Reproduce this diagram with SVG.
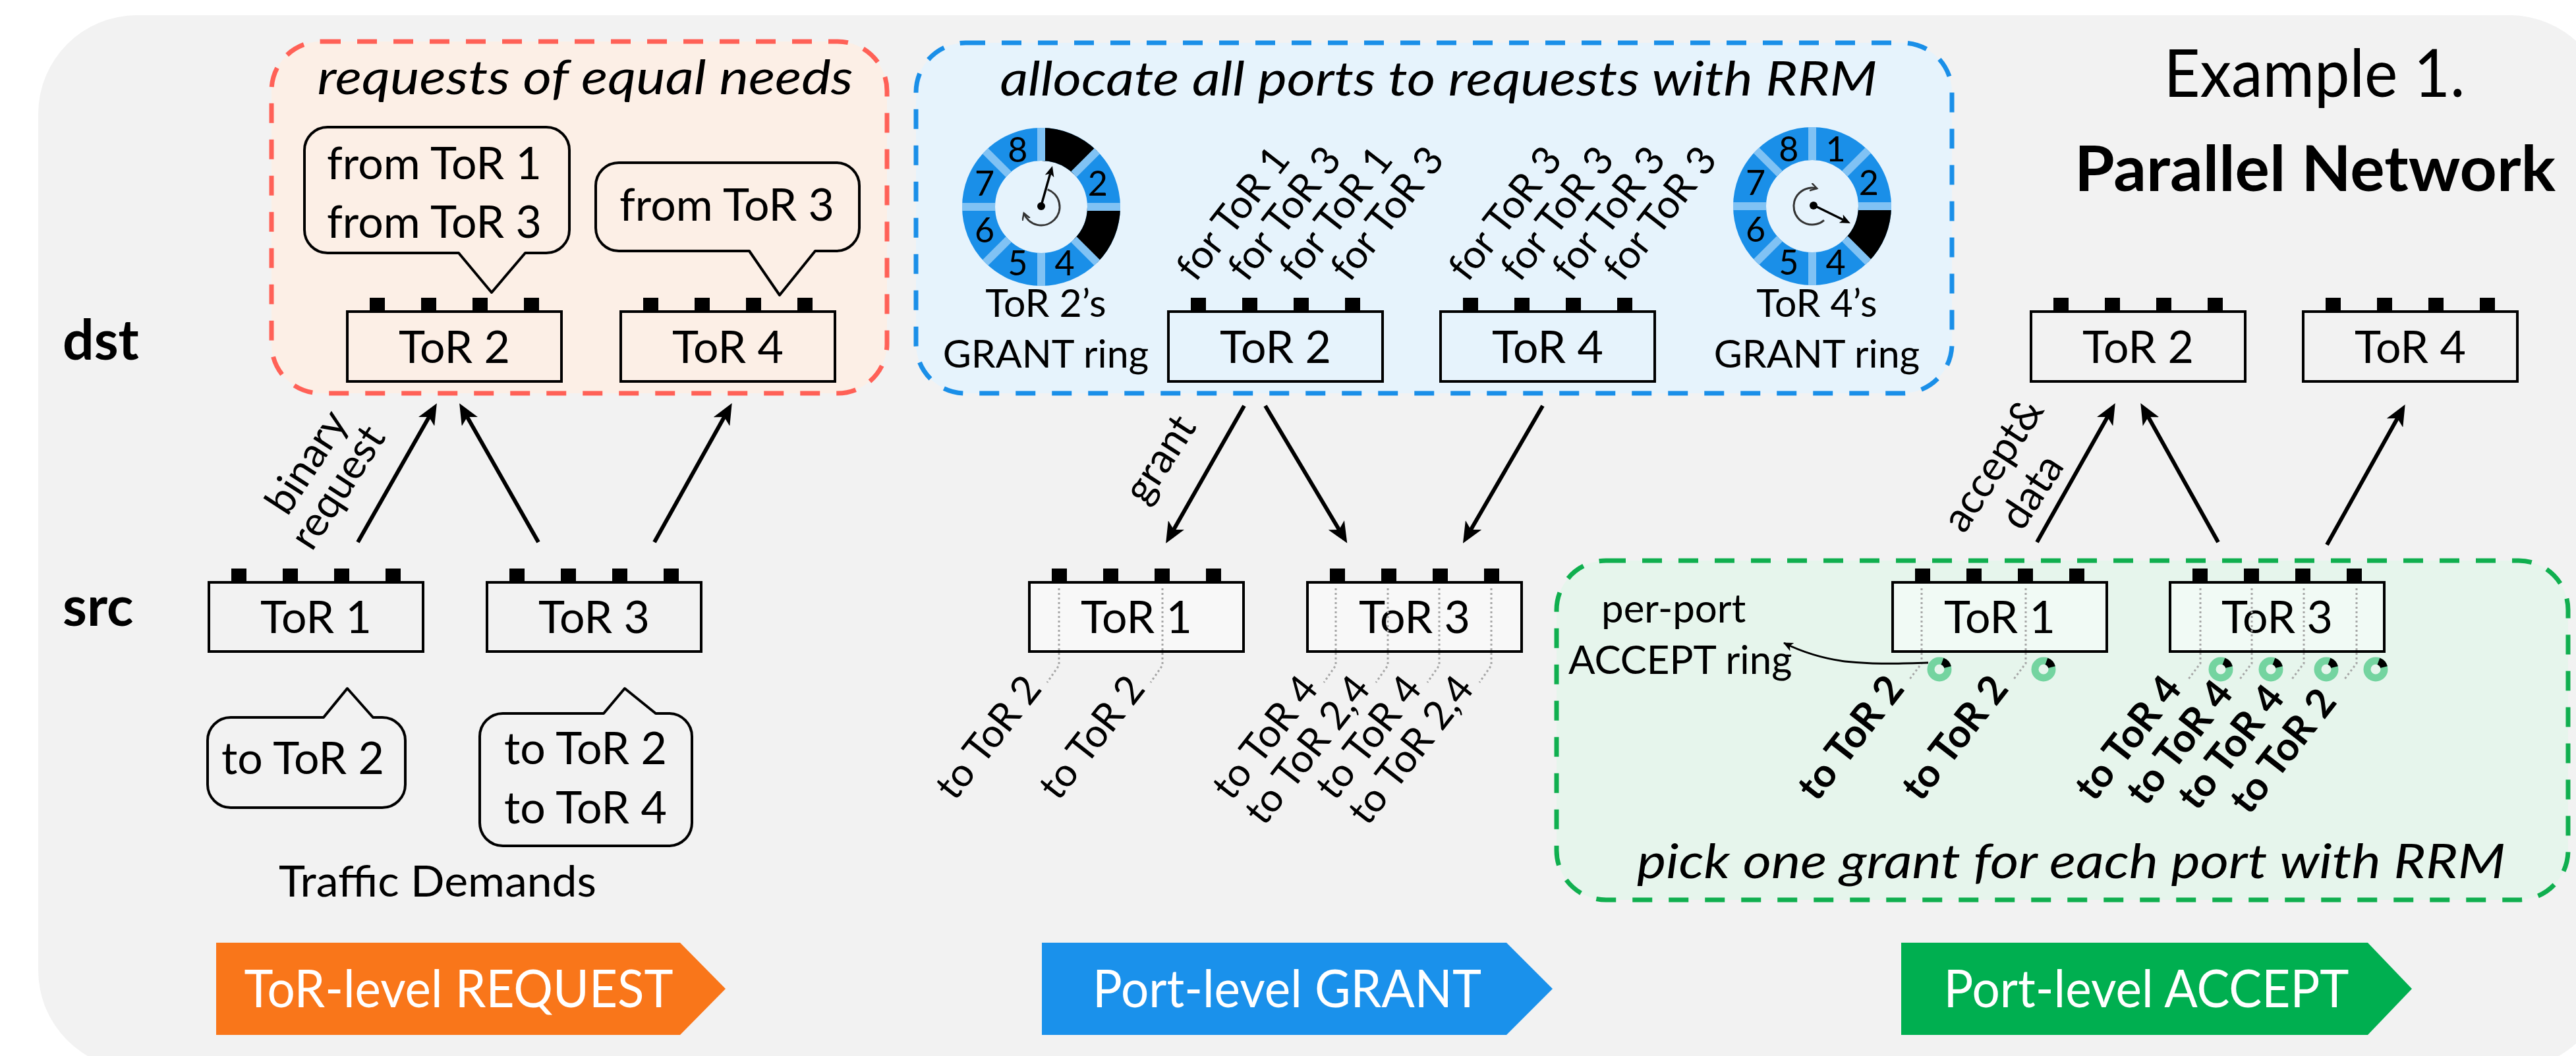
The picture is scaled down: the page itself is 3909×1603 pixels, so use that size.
<svg xmlns="http://www.w3.org/2000/svg" width="3909" height="1603" viewBox="0 0 3909 1603">
<defs>
<style>
text{font-family:Lato,"Liberation Sans",sans-serif;fill:#000}
.box{fill:none;stroke:#000;stroke-width:4}
.port{fill:#000}
.tl{font-size:68px;text-anchor:middle}
.bub{fill:none;stroke:#000;stroke-width:4;stroke-linejoin:round}
.bt{font-size:68px}
.arr{stroke:#000;stroke-width:6;fill:none;marker-end:url(#ah)}
.dot{stroke:#A6A6A6;stroke-width:3;stroke-dasharray:3 4;fill:none}
.pl{font-size:60px;text-anchor:end}
.plb{font-size:60px;text-anchor:end;font-weight:bold}
.fl{font-size:60px}
.al{font-size:63px;text-anchor:middle}
.ttl{font-size:72px;font-style:italic;text-anchor:middle}
.chev{font-size:80px;fill:#fff;text-anchor:middle}
.dig{font-size:52px;fill:#fff;text-anchor:middle}
.rl{font-size:59px;text-anchor:middle}
.ring{fill:none;stroke:#1A8FE8;stroke-width:50}
.blk{fill:none;stroke:#000;stroke-width:50}
.sep{stroke:#80C2F4;stroke-width:12}
.gr{fill:none;stroke:#74D4A0;stroke-width:11}
.grb{fill:none;stroke:#000;stroke-width:11}
</style>
<marker id="ah" markerUnits="userSpaceOnUse" markerWidth="34" markerHeight="28" refX="8" refY="14" orient="auto"><path d="M0,0 L32,14 L0,28 L8,14 Z" fill="#000"/></marker>
<marker id="hh" markerUnits="userSpaceOnUse" markerWidth="18" markerHeight="14" refX="4" refY="7" orient="auto"><path d="M0,0 L16,7 L0,14 L4,7 Z" fill="#000"/></marker>
<marker id="oa" markerUnits="userSpaceOnUse" markerWidth="14" markerHeight="14" refX="10" refY="6" orient="auto"><path d="M0,0 L10,6 L0,12" fill="none" stroke="#333" stroke-width="2.5"/></marker>
<marker id="sa" markerUnits="userSpaceOnUse" markerWidth="16" markerHeight="14" refX="14" refY="7" orient="auto"><path d="M0,0 L15,7 L0,14 L4,7 Z" fill="#000"/></marker>
<g id="ports"><rect class="port" x="34" y="-21" width="23" height="21"/><rect class="port" x="112" y="-21" width="23" height="21"/><rect class="port" x="190" y="-21" width="23" height="21"/><rect class="port" x="268" y="-21" width="23" height="21"/></g>
</defs>

<rect x="0" y="0" width="3909" height="1603" fill="#fff"/>
<rect x="58" y="23" width="3900" height="1600" rx="150" fill="#F2F2F2"/>

<!-- regions -->
<g id="region-request">
<rect x="412" y="63" width="934" height="534" rx="75" fill="#FCEFE6" stroke="#FF6157" stroke-width="7" stroke-dasharray="30 25"/>
<text class="ttl" x="888" y="143" textLength="813" lengthAdjust="spacingAndGlyphs">requests of equal needs</text>
</g>
<g id="region-grant">
<rect x="1390" y="65" width="1572" height="532" rx="75" fill="#E6F3FC" stroke="#1A8FE8" stroke-width="7" stroke-dasharray="30 25"/>
<text class="ttl" x="2183" y="145" textLength="1331" lengthAdjust="spacingAndGlyphs">allocate all ports to requests with RRM</text>
</g>
<g id="region-accept">
<rect x="2362" y="851" width="1535" height="515" rx="75" fill="#E6F5EC" stroke="#10AF4F" stroke-width="7" stroke-dasharray="30 25"/>
<text class="ttl" x="3143" y="1333" textLength="1318" lengthAdjust="spacingAndGlyphs">pick one grant for each port with RRM</text>
</g>

<!-- row labels / title -->
<g id="labels">
<text x="95" y="546" font-size="84" font-weight="bold">dst</text>
<text x="95" y="950" font-size="84" font-weight="bold">src</text>
<text x="3512" y="147" font-size="100" text-anchor="middle" textLength="457" lengthAdjust="spacingAndGlyphs">Example 1.</text>
<text x="3513" y="290" font-size="96" font-weight="bold" text-anchor="middle" textLength="730" lengthAdjust="spacingAndGlyphs">Parallel Network</text>
</g>

<!-- Left panel: ToR-level REQUEST -->
<g id="bubble-from13">
<path class="bub" d="M497,193 H829 A35,35 0 0 1 864,228 V349 A35,35 0 0 1 829,384 H797 L746,444 L696,384 H497 A35,35 0 0 1 462,349 V228 A35,35 0 0 1 497,193 Z"/>
<text class="bt" x="496" y="272">from ToR 1</text>
<text class="bt" x="496" y="361">from ToR 3</text>
</g>
<g id="bubble-from3">
<path class="bub" d="M939,247 H1269 A35,35 0 0 1 1304,282 V346 A35,35 0 0 1 1269,381 H1237 L1183,448 L1137,381 H939 A35,35 0 0 1 904,346 V282 A35,35 0 0 1 939,247 Z"/>
<text class="bt" x="940" y="335">from ToR 3</text>
</g>
<g id="L-dst-tor2" transform="translate(527,473)"><use href="#ports"/><rect class="box" width="325" height="106"/><text class="tl" x="162.5" y="78">ToR 2</text></g>
<g id="L-dst-tor4" transform="translate(942,473)"><use href="#ports"/><rect class="box" width="325" height="106"/><text class="tl" x="162.5" y="78">ToR 4</text></g>
<g id="L-src-tor1" transform="translate(317,884)"><use href="#ports"/><rect class="box" width="325" height="105"/><text class="tl" x="162.5" y="77">ToR 1</text></g>
<g id="L-src-tor3" transform="translate(739,884)"><use href="#ports"/><rect class="box" width="325" height="105"/><text class="tl" x="162.5" y="77">ToR 3</text></g>
<g id="bubble-to2">
<path class="bub" d="M350,1089 H491 L527,1045 L566,1089 H580 A35,35 0 0 1 615,1124 V1191 A35,35 0 0 1 580,1226 H350 A35,35 0 0 1 315,1191 V1124 A35,35 0 0 1 350,1089 Z"/>
<text class="bt" x="336" y="1175">to ToR 2</text>
</g>
<g id="bubble-to24">
<path class="bub" d="M763,1083 H916 L948,1045 L995,1083 H1015 A35,35 0 0 1 1050,1118 V1249 A35,35 0 0 1 1015,1284 H763 A35,35 0 0 1 728,1249 V1118 A35,35 0 0 1 763,1083 Z"/>
<text class="bt" x="765" y="1160">to ToR 2</text>
<text class="bt" x="765" y="1250">to ToR 4</text>
</g>
<text x="664" y="1361" font-size="65" text-anchor="middle" textLength="482" lengthAdjust="spacingAndGlyphs">Traffic Demands</text>

<!-- Middle panel: GRANT -->
<g id="ring-tor2">
<circle class="ring" cx="1580" cy="314" r="95"/>
<path class="blk" d="M1580,219 A95,95 0 0 1 1647.18,246.82"/>
<path class="blk" d="M1675,314 A95,95 0 0 1 1647.18,381.18"/>
<g class="sep">
<line x1="1580" y1="244" x2="1580" y2="194"/><line x1="1629.5" y1="264.5" x2="1664.85" y2="229.15"/>
<line x1="1650" y1="314" x2="1700" y2="314"/><line x1="1629.5" y1="363.5" x2="1664.85" y2="398.85"/>
<line x1="1580" y1="384" x2="1580" y2="434"/><line x1="1530.5" y1="363.5" x2="1495.15" y2="398.85"/>
<line x1="1510" y1="314" x2="1460" y2="314"/><line x1="1530.5" y1="264.5" x2="1495.15" y2="229.15"/>
</g>
<g class="dig">
<text x="1615.6" y="246">1</text><text x="1665.9" y="296.5">2</text><text x="1665.9" y="367.5">3</text><text x="1615.6" y="418">4</text>
<text x="1544.4" y="418">5</text><text x="1494.1" y="367.5">6</text><text x="1494.1" y="296.5">7</text><text x="1544.4" y="246">8</text>
</g>
<line x1="1580" y1="312" x2="1593.7" y2="263.5" stroke="#000" stroke-width="3.5" marker-end="url(#hh)"/>
<circle cx="1580" cy="313" r="6"/>
<path d="M1589.6,287.7 A28,28 0 1 1 1553.7,323.6" fill="none" stroke="#333" stroke-width="3" marker-end="url(#oa)"/>
<text class="rl" x="1587" y="481">ToR 2’s</text>
<text class="rl" x="1587" y="558">GRANT ring</text>
</g>
<g id="ring-tor4">
<circle class="ring" cx="2750" cy="313" r="95"/>
<path class="blk" d="M2845,313 A95,95 0 0 1 2817.18,380.18"/>
<g class="sep">
<line x1="2750" y1="243" x2="2750" y2="193"/><line x1="2799.5" y1="263.5" x2="2834.85" y2="228.15"/>
<line x1="2820" y1="313" x2="2870" y2="313"/><line x1="2799.5" y1="362.5" x2="2834.85" y2="397.85"/>
<line x1="2750" y1="383" x2="2750" y2="433"/><line x1="2700.5" y1="362.5" x2="2665.15" y2="397.85"/>
<line x1="2680" y1="313" x2="2630" y2="313"/><line x1="2700.5" y1="263.5" x2="2665.15" y2="228.15"/>
</g>
<g class="dig">
<text x="2785.6" y="245">1</text><text x="2835.9" y="295.5">2</text><text x="2835.9" y="366.5">3</text><text x="2785.6" y="417">4</text>
<text x="2714.4" y="417">5</text><text x="2664.1" y="366.5">6</text><text x="2664.1" y="295.5">7</text><text x="2714.4" y="245">8</text>
</g>
<line x1="2753" y1="312" x2="2797.2" y2="333.7" stroke="#000" stroke-width="3.5" marker-end="url(#hh)"/>
<circle cx="2752" cy="312" r="6"/>
<path d="M2768,334.4 A28,28 0 1 1 2757.2,286" fill="none" stroke="#333" stroke-width="3" marker-end="url(#oa)"/>
<text class="rl" x="2757" y="481">ToR 4’s</text>
<text class="rl" x="2757" y="558">GRANT ring</text>
</g>
<g id="M-dst-tor2" transform="translate(1773,473)"><use href="#ports"/><rect class="box" width="325" height="106"/><text class="tl" x="162.5" y="78">ToR 2</text></g>
<g id="M-dst-tor4" transform="translate(2186,473)"><use href="#ports"/><rect class="box" width="325" height="106"/><text class="tl" x="162.5" y="78">ToR 4</text></g>
<g id="for-labels" class="fl">
<text transform="translate(1814,430) rotate(-52)">for ToR 1</text>
<text transform="translate(1892,430) rotate(-52)">for ToR 3</text>
<text transform="translate(1970,430) rotate(-52)">for ToR 1</text>
<text transform="translate(2048,430) rotate(-52)">for ToR 3</text>
<text transform="translate(2227,430) rotate(-52)">for ToR 3</text>
<text transform="translate(2306,430) rotate(-52)">for ToR 3</text>
<text transform="translate(2384,430) rotate(-52)">for ToR 3</text>
<text transform="translate(2462,430) rotate(-52)">for ToR 3</text>
</g>
<g id="M-src-tor1" transform="translate(1562,884)"><use href="#ports"/><rect class="box" width="325" height="105" style="fill:#F8F8F8"/><text class="tl" x="162.5" y="77">ToR 1</text></g>
<g id="M-src-tor3" transform="translate(1984,884)"><use href="#ports"/><rect class="box" width="325" height="105" style="fill:#F8F8F8"/><text class="tl" x="162.5" y="77">ToR 3</text></g>
<g id="M-port-demands">
<path class="dot" d="M1607,893 V1010 L1589,1036"/>
<path class="dot" d="M1764,893 V1010 L1746,1036"/>
<path class="dot" d="M2027,893 V1010 L2009,1036"/>
<path class="dot" d="M2106,893 V1010 L2088,1036"/>
<path class="dot" d="M2184,893 V1010 L2166,1036"/>
<path class="dot" d="M2263,893 V1010 L2245,1036"/>
<text class="pl" transform="translate(1583,1046) rotate(-52)">to ToR 2</text>
<text class="pl" transform="translate(1740,1046) rotate(-52)">to ToR 2</text>
<text class="pl" transform="translate(2003,1046) rotate(-52)">to ToR 4</text>
<text class="pl" transform="translate(2082,1046) rotate(-52)">to ToR 2,4</text>
<text class="pl" transform="translate(2160,1046) rotate(-52)">to ToR 4</text>
<text class="pl" transform="translate(2239,1046) rotate(-52)">to ToR 2,4</text>
</g>

<!-- Right panel: ACCEPT -->
<g id="R-dst-tor2" transform="translate(3082,473)"><use href="#ports"/><rect class="box" width="325" height="106"/><text class="tl" x="162.5" y="78">ToR 2</text></g>
<g id="R-dst-tor4" transform="translate(3495,473)"><use href="#ports"/><rect class="box" width="325" height="106"/><text class="tl" x="162.5" y="78">ToR 4</text></g>
<g id="R-src-tor1" transform="translate(2872,884)"><use href="#ports"/><rect class="box" width="325" height="105" style="fill:#F1FAF5"/><text class="tl" x="162.5" y="77">ToR 1</text></g>
<g id="R-src-tor3" transform="translate(3293,884)"><use href="#ports"/><rect class="box" width="325" height="105" style="fill:#F1FAF5"/><text class="tl" x="162.5" y="77">ToR 3</text></g>
<g id="R-port-accepts">
<path class="dot" d="M2916,893 V1007 L2897,1032"/>
<path class="dot" d="M3074,893 V1007 L3055,1032"/>
<path class="dot" d="M3339,893 V1007 L3320,1032"/>
<path class="dot" d="M3417,893 V1007 L3398,1032"/>
<path class="dot" d="M3496,893 V1007 L3477,1032"/>
<path class="dot" d="M3576,893 V1007 L3557,1032"/>
<g>
<circle class="gr" cx="2943" cy="1016" r="13"/><path class="grb" d="M2947.45,1003.8 A13,13 0 0 1 2955.56,1012.64"/>
<circle class="gr" cx="3101" cy="1016" r="13"/><path class="grb" d="M3105.45,1003.8 A13,13 0 0 1 3113.56,1012.64"/>
<circle class="gr" cx="3370" cy="1016" r="13"/><path class="grb" d="M3374.45,1003.8 A13,13 0 0 1 3382.56,1012.64"/>
<circle class="gr" cx="3446" cy="1016" r="13"/><path class="grb" d="M3450.45,1003.8 A13,13 0 0 1 3458.56,1012.64"/>
<circle class="gr" cx="3530" cy="1016" r="13"/><path class="grb" d="M3534.45,1003.8 A13,13 0 0 1 3542.56,1012.64"/>
<circle class="gr" cx="3605" cy="1016" r="13"/><path class="grb" d="M3609.45,1003.8 A13,13 0 0 1 3617.56,1012.64"/>
</g>
<text class="plb" transform="translate(2892,1046) rotate(-52)">to ToR 2</text>
<text class="plb" transform="translate(3050,1046) rotate(-52)">to ToR 2</text>
<text class="plb" transform="translate(3313,1046) rotate(-52)">to ToR 4</text>
<text class="plb" transform="translate(3391,1053) rotate(-52)">to ToR 4</text>
<text class="plb" transform="translate(3469,1060) rotate(-52)">to ToR 4</text>
<text class="plb" transform="translate(3548,1066) rotate(-52)">to ToR 2</text>
</g>
<g id="accept-ring-note">
<text x="2430" y="945" font-size="60">per-port</text>
<text x="2380" y="1023" font-size="60">ACCEPT ring</text>
<path d="M2926,1006 C2840,1008 2780,1012 2707,976" fill="none" stroke="#000" stroke-width="3" marker-end="url(#sa)"/>
</g>

<!-- connectors -->
<g id="connectors">
<path class="arr" d="M543,823 L651,633"/>
<path class="arr" d="M817,823 L709,633"/>
<path class="arr" d="M993,823 L1099,633"/>
<path class="arr" d="M1888,616 L1781,804"/>
<path class="arr" d="M1920,616 L2032,804"/>
<path class="arr" d="M2341,616 L2232,804"/>
<path class="arr" d="M3091,823 L3198,633"/>
<path class="arr" d="M3366,823 L3260,633"/>
<path class="arr" d="M3531,827 L3638,635"/>
<text class="al" transform="translate(483,713) rotate(-57)">binary</text>
<text class="al" transform="translate(530,751) rotate(-57)">request</text>
<text class="al" transform="translate(1778,708) rotate(-57)">grant</text>
<text class="al" transform="translate(3042,717) rotate(-57)">accept&amp;</text>
<text class="al" transform="translate(3101,758) rotate(-57)">data</text>
</g>

<!-- phase chevrons -->
<g id="phase-request">
<path d="M328,1431 H1032 L1101,1501 L1032,1571 H328 Z" fill="#F9761A"/>
<text class="chev" x="696" y="1529" textLength="651" lengthAdjust="spacingAndGlyphs">ToR-level REQUEST</text>
</g>
<g id="phase-grant">
<path d="M1581,1431 H2286 L2356,1501 L2286,1571 H1581 Z" fill="#1A91EB"/>
<text class="chev" x="1953" y="1529" textLength="590" lengthAdjust="spacingAndGlyphs">Port-level GRANT</text>
</g>
<g id="phase-accept">
<path d="M2885,1431 H3593 L3660,1501 L3593,1571 H2885 Z" fill="#00AF50"/>
<text class="chev" x="3257" y="1529" textLength="615" lengthAdjust="spacingAndGlyphs">Port-level ACCEPT</text>
</g>
</svg>
